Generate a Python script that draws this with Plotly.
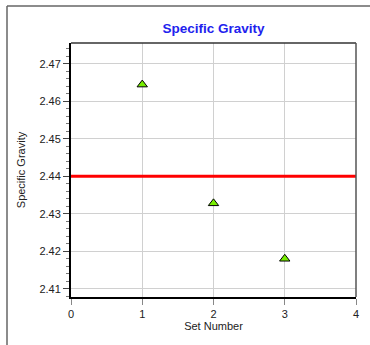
import plotly.graph_objects as go

set_numbers = [1, 2, 3]
specific_gravity = [2.4645, 2.4328, 2.4180]
spec_limit = 2.44
x_range = [0, 4]
y_range = [2.4078, 2.4756]

W, H = 370, 345
ml, mr, mt, mb = 71, 14, 43, 48
pw, ph = W - ml - mr, H - mt - mb

fig = go.Figure()
fig.add_trace(go.Scatter(
    x=x_range, y=[spec_limit, spec_limit], mode="lines",
    line=dict(color="#ff0000", width=3), hoverinfo="skip", showlegend=False))
fig.add_trace(go.Scatter(
    x=set_numbers, y=specific_gravity, mode="markers",
    marker=dict(symbol="triangle-up", size=9, color="#77ee00",
                line=dict(color="#000000", width=1)),
    showlegend=False))

def px_x(p):
    return (p - ml) / pw

def px_y(p):
    return (H - mb - p) / ph

shapes = [
    # plot frame top and right
    dict(type="line", xref="paper", yref="paper", x0=0, x1=1, y0=1, y1=1,
         line=dict(color="#333333", width=1.5)),
    dict(type="line", xref="paper", yref="paper", x0=1, x1=1, y0=0, y1=1,
         line=dict(color="#555555", width=1.5)),
    # outer frame
    dict(type="line", xref="paper", yref="paper", x0=px_x(7), x1=px_x(7),
         y0=px_y(6), y1=px_y(345), line=dict(color="#666666", width=1.5)),
    dict(type="line", xref="paper", yref="paper", x0=px_x(7), x1=px_x(370),
         y0=px_y(6), y1=px_y(6), line=dict(color="#666666", width=1.5)),
]

fig.update_layout(
    width=W, height=H,
    margin=dict(l=ml, r=mr, t=mt, b=mb),
    paper_bgcolor="white", plot_bgcolor="white",
    font=dict(family="Liberation Sans, Arial, sans-serif", size=11, color="#222222"),
    title=dict(text="<b>Specific Gravity</b>", x=0.5, xref="paper",
               y=1 - 28 / H, yanchor="middle",
               font=dict(size=13.5, color="#2222ee")),
    shapes=shapes,
    xaxis=dict(range=x_range, dtick=1, tick0=0, showgrid=True, gridcolor="#d0d0d0",
               gridwidth=1, zeroline=False, showline=True, linecolor="#000000",
               linewidth=2, ticks="outside", ticklen=6, tickcolor="#888888",
               title=dict(text="Set Number", standoff=2, font=dict(size=11)),
               tickfont=dict(size=11)),
    yaxis=dict(range=y_range, dtick=0.01, tick0=2.41, tickformat=".2f",
               showgrid=True, gridcolor="#d0d0d0", gridwidth=1, zeroline=False,
               showline=True, linecolor="#000000", linewidth=2,
               ticks="outside", ticklen=6, tickcolor="#444444",
               minor=dict(dtick=0.002, tick0=2.41, ticks="outside", ticklen=3,
                          tickcolor="#777777", showgrid=False),
               title=dict(text="Specific Gravity", standoff=12, font=dict(size=11)),
               tickfont=dict(size=11)),
)

fig.write_html("out.html", config={"displayModeBar": False},
               post_script="document.body.style.margin='0';document.body.style.overflow='hidden';")
